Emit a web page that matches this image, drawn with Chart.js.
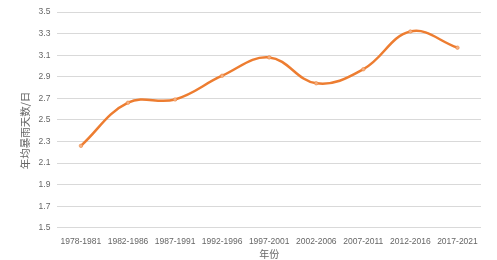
<!DOCTYPE html>
<html>
<head>
<meta charset="utf-8">
<script src="https://cdn.jsdelivr.net/npm/chart.js@4/dist/chart.umd.min.js"></script>
<style>
html,body{margin:0;padding:0;background:#fff;}
#wrap{width:497px;height:260px;}
</style>
</head>
<body>
<div id="wrap"><canvas id="rainChart" width="497" height="260"></canvas></div>
<script>
// 年均暴雨天数

const periods = ["1978-1981","1982-1986","1987-1991","1992-1996","1997-2001","2002-2006","2007-2011","2012-2016","2017-2021"];
const rainDays = [2.26, 2.66, 2.69, 2.91, 3.08, 2.84, 2.97, 3.32, 3.17];
const yTicks = [1.5, 1.7, 1.9, 2.1, 2.3, 2.5, 2.7, 2.9, 3.1, 3.3, 3.5];

new Chart(
document.getElementById("rainChart"),
{
type:"line",

data:{
labels:periods,
datasets:[{
data:rainDays,
borderColor:"#ED7D31",
borderWidth:2.5,
tension:0.4,
pointRadius:1.8,
pointBackgroundColor:"#F4B183",
pointBorderColor:"#ED7D31",
pointBorderWidth:0.5
}]
},

options:{
responsive:false,
animation:false,
layout:{padding:{top:8,right:16,bottom:0,left:19}},
plugins:{legend:{display:false},tooltip:{enabled:false}},
scales:{
x:{
offset:true,
grid:{display:false},
border:{display:false},
ticks:{color:"#666",font:{family:"Liberation Sans",size:8.5},maxRotation:0,autoSkip:false,padding:1},
title:{display:true,text:"年份",color:"#666",font:{family:"Noto Sans CJK SC",size:10},padding:{top:0,bottom:0}}
},
y:{
min:yTicks[0],
max:yTicks[yTicks.length-1],
afterBuildTicks:(axis)=>{axis.ticks=yTicks.map(v=>({value:v}));},
grid:{color:"#d9d9d9",drawTicks:false},
border:{display:false},
ticks:{color:"#666",font:{family:"Liberation Sans",size:8.5},padding:7,callback:(v)=>Number(v).toFixed(1)},
title:{display:true,text:"年均暴雨天数/日\u3000\u3000",color:"#666",font:{family:"Noto Sans CJK SC",size:10.5},padding:{top:0,bottom:0}}
}
}
}
}
);
</script>
</body>
</html>
